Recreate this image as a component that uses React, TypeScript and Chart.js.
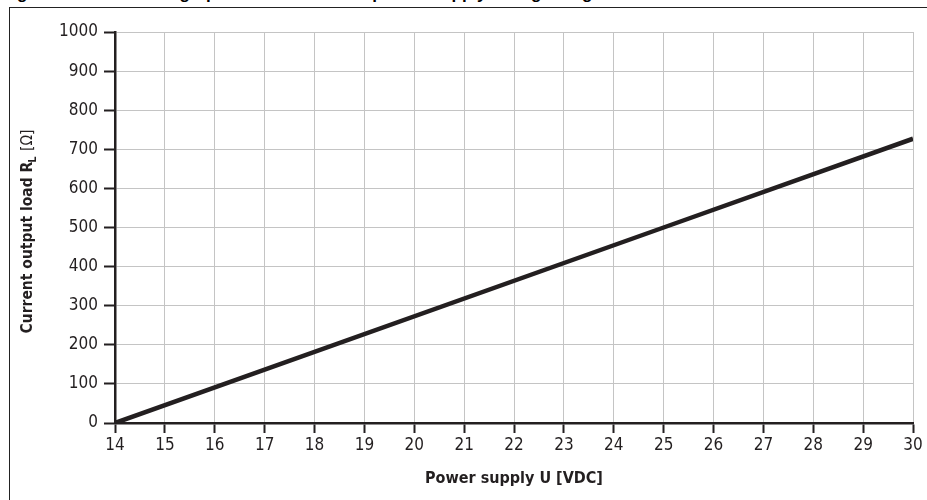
import { useEffect, useRef } from "react";
import { Chart, registerables } from "chart.js";

Chart.register(...registerables);

// ---- data ----
const supplyVoltage = [14, 25, 30];
const outputLoad = [0, 500, 727];
const xTickValues = [14, 15, 16, 17, 18, 19, 20, 21, 22, 23, 24, 25, 26, 27, 28, 29, 30];
const yTickValues = [0, 100, 200, 300, 400, 500, 600, 700, 800, 900, 1000];

const titleText = "Fig. 6: Maximum load graph of the current output vs. supply voltage range";
const xTitle = "Power supply U [VDC]";
const yTitleMain = "Current output load R";
const yTitleSub = "L";
const yTitleUnit = " [Ω]";

const COND = '"DejaVu Sans Condensed", "Liberation Sans Narrow", "DejaVu Sans", sans-serif';
const INK = "#231f20";

const yTitlePlugin = {
  id: "yTitlePlugin",
  afterDraw(chart: any) {
    const { ctx, chartArea } = chart;
    const cy = (chartArea.top + chartArea.bottom) / 2 + 4;
    ctx.save();
    ctx.translate(28, cy);
    ctx.rotate(-Math.PI / 2);
    ctx.fillStyle = INK;
    ctx.textBaseline = "middle";
    ctx.textAlign = "left";
    const fMain = `bold 15.5px ${COND}`;
    const fSub = `bold 11px ${COND}`;
    const fUnit = `normal 15.5px ${COND}`;
    ctx.font = fMain;
    const w1 = ctx.measureText(yTitleMain).width;
    ctx.font = fSub;
    const w2 = ctx.measureText(yTitleSub).width;
    ctx.font = fUnit;
    const w3 = ctx.measureText(yTitleUnit).width;
    let x = -(w1 + w2 + w3) / 2;
    ctx.font = fMain;
    ctx.fillText(yTitleMain, x, 0);
    x += w1;
    ctx.font = fSub;
    ctx.fillText(yTitleSub, x - 1, 5);
    x += w2;
    ctx.font = fUnit;
    ctx.fillText(yTitleUnit, x, 0);
    ctx.restore();
  },
};

export default function App() {
  const ref = useRef<HTMLCanvasElement>(null);

  useEffect(() => {
    if (!ref.current) return;
    const chart = new Chart(ref.current, {
      type: "line",
      data: {
        datasets: [
          {
            data: supplyVoltage.map((v, i) => ({ x: v, y: outputLoad[i] })),
            borderColor: INK,
            borderWidth: 4.5,
            pointRadius: 0,
            fill: false,
            tension: 0,
          },
        ],
      },
      options: {
        animation: false,
        responsive: false,
        maintainAspectRatio: false,
        layout: { padding: { left: 0, right: 14, top: 32, bottom: 0 } },
        plugins: {
          legend: { display: false },
          tooltip: { enabled: false },
          title: { display: false },
        },
        scales: {
          x: {
            type: "linear",
            min: 14,
            max: 30,
            afterBuildTicks: (s: any) => {
              s.ticks = xTickValues.map((v) => ({ value: v }));
            },
            afterFit: (s: any) => {
              s.height = 77;
            },
            grid: {
              color: "#c4c4c4",
              lineWidth: 1,
              tickColor: INK,
              tickLength: 10,
              tickWidth: 2,
            },
            border: { color: INK, width: 2.5 },
            ticks: {
              color: INK,
              font: { family: COND, size: 17 },
              padding: 2,
              maxRotation: 0,
              autoSkip: false,
              callback: (v: any) => String(v),
            },
            title: {
              display: true,
              text: xTitle,
              color: INK,
              font: { family: COND, size: 16, weight: "bold" },
              padding: { top: 2, bottom: 12 },
            },
          },
          y: {
            type: "linear",
            min: 0,
            max: 1000,
            afterBuildTicks: (s: any) => {
              s.ticks = yTickValues.map((v) => ({ value: v }));
            },
            afterFit: (s: any) => {
              s.width = 115;
            },
            grid: {
              color: "#c4c4c4",
              lineWidth: 1,
              tickColor: INK,
              tickLength: 11,
              tickWidth: 2,
            },
            border: { color: INK, width: 2.5 },
            ticks: {
              color: INK,
              font: { family: COND, size: 17 },
              padding: 6,
              autoSkip: false,
              callback: (v: any) => String(v),
            },
          },
        },
      },
      plugins: [yTitlePlugin],
    } as any);
    return () => chart.destroy();
  }, []);

  return (
    <div
      style={{
        position: "absolute",
        left: 0,
        top: 0,
        width: 927,
        height: 500,
        overflow: "hidden",
        background: "#fff",
      }}
    >
      <div
        style={{
          position: "absolute",
          left: 2,
          top: -16,
          whiteSpace: "nowrap",
          font: 'bold 17px "Liberation Sans", Arial, sans-serif',
          color: "#000",
        }}
      >
        {titleText}
      </div>
      <div
        style={{
          position: "absolute",
          left: 9,
          top: 7,
          width: 940,
          height: 520,
          borderLeft: "1.5px solid #222",
          borderTop: "1.5px solid #222",
        }}
      />
      <canvas
        ref={ref}
        width={927}
        height={500}
        style={{ position: "absolute", left: 0, top: 0, width: 927, height: 500 }}
      />
    </div>
  );
}
